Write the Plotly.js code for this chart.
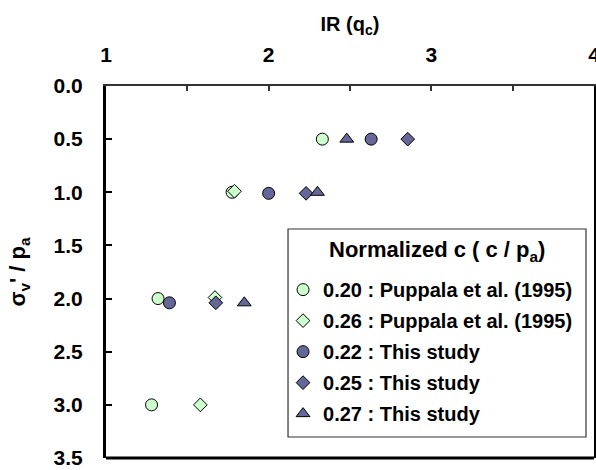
<!DOCTYPE html>
<html>
<head>
<meta charset="utf-8">
<script src="https://cdn.plot.ly/plotly-3.0.1.min.js"></script>
<style>
  html, body { margin: 0; padding: 0; background: #fff; }
  #chart { width: 596px; height: 470px; }
</style>
</head>
<body>
<div id="chart"></div>
<script>
// IR (qc) against normalized vertical effective stress, grouped by normalized cohesion
const seriesNames = [
  "0.20 : Puppala et al. (1995)",
  "0.26 : Puppala et al. (1995)",
  "0.22 : This study",
  "0.25 : This study",
  "0.27 : This study"
];
const legendTitle = "Normalized c ( c / p<sub>a</sub>)";

const puppala020_IR = [2.33, 1.775, 1.32, 1.28];
const puppala020_sv = [0.50, 1.00, 2.00, 3.00];

const puppala026_IR = [1.79, 1.67, 1.58];
const puppala026_sv = [0.99, 1.99, 3.00];

const study022_IR = [2.63, 2.00, 1.39];
const study022_sv = [0.50, 1.01, 2.04];

const study025_IR = [2.855, 2.23, 1.675];
const study025_sv = [0.50, 1.01, 2.04];

const study027_IR = [2.48, 2.30, 1.85];
const study027_sv = [0.50, 1.00, 2.04];

const xTickVals = [1, 2, 3, 4];
const yTickVals = [0.0, 0.5, 1.0, 1.5, 2.0, 2.5, 3.0, 3.5];

const FONT = "Liberation Sans, Arial, sans-serif";
const LIGHT = "#ccffcc";
const DARK = "#666699";

function series(name, x, y, symbol, size, fill, group) {
  return {
    type: "scatter", mode: "markers", name: name, x: x, y: y,
    legendgroup: group,
    marker: { symbol: symbol, size: size, color: fill, line: { color: "#000", width: 1 } }
  };
}

const traces = [
  series(seriesNames[0], puppala020_IR, puppala020_sv, "circle", 12, LIGHT, "a"),
  series(seriesNames[1], puppala026_IR, puppala026_sv, "diamond", 10.5, LIGHT, "b"),
  series(seriesNames[2], study022_IR, study022_sv, "circle", 12, DARK, "c"),
  series(seriesNames[3], study025_IR, study025_sv, "diamond", 10.5, DARK, "d"),
  series(seriesNames[4], study027_IR, study027_sv, "triangle-up", 12, DARK, "e")
];

// framed legend panel (paper coordinates) with its heading above the entries
const legendBox = { x0: 0.373, x1: 0.9836, y0: 0.0565, y1: 0.6156 };

const layout = {
  width: 596, height: 470,
  margin: { l: 106, r: 2, t: 86, b: 12 },
  paper_bgcolor: "#fff", plot_bgcolor: "#fff",
  font: { family: FONT, color: "#000", size: 20, weight: "bold" },
  showlegend: true,
  xaxis: {
    side: "top", range: [1, 4], tickvals: xTickVals, ticktext: xTickVals.map(String),
    showgrid: false, zeroline: false,
    showline: true, linecolor: "#333", linewidth: 2,
    ticks: "inside", ticklen: 5, tickwidth: 2, tickcolor: "#333",
    minor: { dtick: 0.5, ticks: "inside", ticklen: 5, tickwidth: 2, tickcolor: "#333", showgrid: false },
    tickfont: { family: FONT, size: 21, weight: "bold" },
    ticklabelstandoff: 14,
    ticklabeloverflow: "allow",
    title: { text: "IR (q<sub>c</sub>)", font: { family: FONT, size: 20, weight: "bold" }, standoff: 6 },
    fixedrange: true
  },
  yaxis: {
    range: [3.5, 0], tickvals: yTickVals, ticktext: yTickVals.map(v => v.toFixed(1)),
    showgrid: false, zeroline: false,
    showline: true, linecolor: "#000", linewidth: 3, mirror: true,
    ticks: "inside", ticklen: 6, tickwidth: 2, tickcolor: "#000",
    tickfont: { family: FONT, size: 21, weight: "bold" },
    ticklabelstandoff: 16,
    title: { text: "σ<sub>v</sub>' / p<sub>a</sub>", font: { family: FONT, size: 22, weight: "bold" }, standoff: 22 },
    fixedrange: true
  },
  shapes: [
    { type: "line", xref: "paper", yref: "paper", x0: 0, x1: 1, y0: 0, y1: 0,
      line: { color: "#000", width: 3 } },
    { type: "rect", xref: "paper", yref: "paper", layer: "above",
      x0: legendBox.x0, x1: legendBox.x1, y0: legendBox.y0, y1: legendBox.y1,
      fillcolor: "#fff", line: { color: "#333", width: 1.2 } }
  ],
  annotations: [
    { xref: "paper", yref: "paper", x: (legendBox.x0 + legendBox.x1) / 2, y: 0.5565,
      xanchor: "center", yanchor: "middle", showarrow: false,
      text: legendTitle, font: { family: FONT, size: 22, weight: "bold", color: "#000" } }
  ],
  legend: {
    x: 0.3628, y: 0.505, xanchor: "left", yanchor: "top",
    bgcolor: "rgba(0,0,0,0)", borderwidth: 0,
    font: { family: FONT, size: 20, weight: "bold" },
    traceorder: "grouped", tracegroupgap: 2
  }
};

Plotly.newPlot("chart", traces, layout, { staticPlot: true, displayModeBar: false });
</script>
</body>
</html>
